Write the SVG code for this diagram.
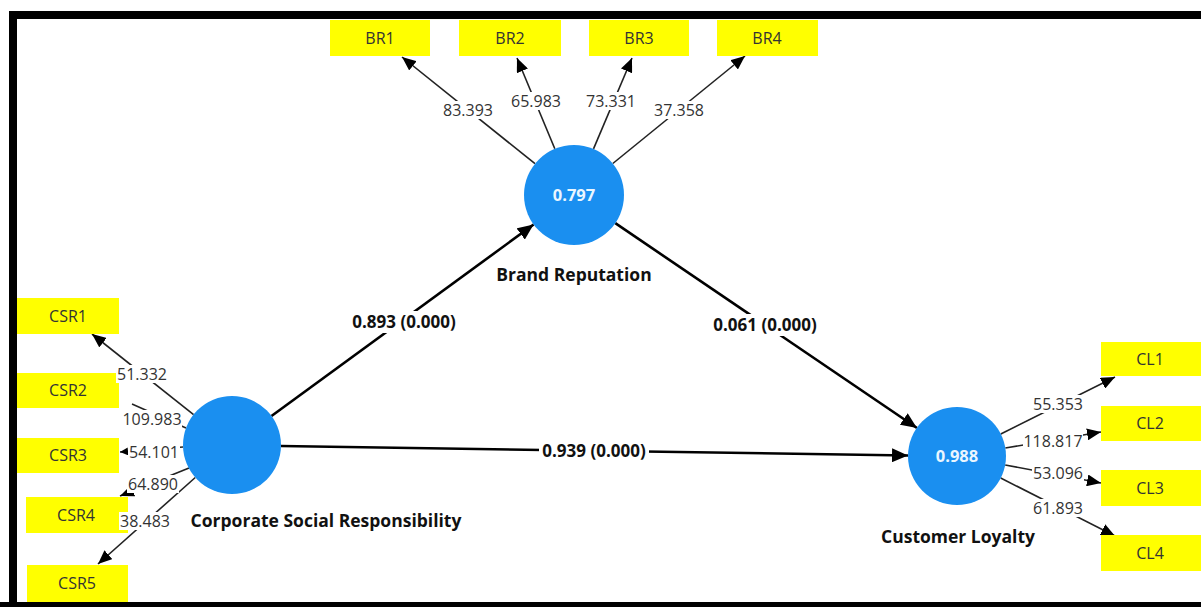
<svg xmlns="http://www.w3.org/2000/svg" width="1201" height="607" viewBox="0 0 1201 607">
<defs>
<marker id="ah" markerUnits="userSpaceOnUse" markerWidth="16" markerHeight="14" refX="16" refY="7" orient="auto"><path d="M0,0 L16,7 L0,14 z" fill="#000"/></marker>
<marker id="ai" markerUnits="userSpaceOnUse" markerWidth="14" markerHeight="12" refX="14" refY="6" orient="auto"><path d="M0,0 L14,6 L0,12 z" fill="#000"/></marker>
<marker id="as" markerUnits="userSpaceOnUse" markerWidth="8" markerHeight="8" refX="8" refY="4" orient="auto"><path d="M0,0 L8,4 L0,8 z" fill="#000"/></marker>
</defs>
<style>
.ind{stroke:#222;stroke-width:1.6;fill:none}
.str{stroke:#000;stroke-width:2.6;fill:none}
.bg{fill:#fff}
.num{font-family:"Open Sans","Noto Sans",sans-serif;font-size:16px;fill:#333;text-anchor:middle}
.pl{font-family:"Open Sans","Noto Sans",sans-serif;font-size:17px;font-weight:bold;fill:#111;text-anchor:middle}
.box{fill:#ffff00}
.bt{font-family:"Open Sans","Noto Sans",sans-serif;font-size:16px;fill:#333;text-anchor:middle}
.lv{fill:#1a8ff0}
.lvt{font-family:"Open Sans","Noto Sans",sans-serif;font-size:16.5px;font-weight:bold;fill:#eaf6ff;text-anchor:middle}
.lvn{font-family:"Open Sans","Noto Sans",sans-serif;font-size:17.5px;font-weight:bold;fill:#111;text-anchor:middle}
</style>
<rect x="0" y="0" width="1201" height="607" fill="#fff"/>
<rect x="9" y="11" width="1192" height="8" fill="#000"/>
<rect x="9" y="11" width="8" height="596" fill="#000"/>
<rect x="0" y="602" width="1201" height="5" fill="#000"/>

<g id="connectors">
<line class="str" x1="271.5" y1="416" x2="533.6" y2="224.5" marker-end="url(#ah)"/>
<line class="str" x1="615.3" y1="223.2" x2="917" y2="428" marker-end="url(#ah)"/>
<line class="str" x1="281" y1="446" x2="908" y2="455.5" marker-end="url(#ah)"/>
<line class="ind" x1="535" y1="163.7" x2="402" y2="57" marker-end="url(#ai)"/>
<line class="ind" x1="554.8" y1="148.8" x2="517" y2="58" marker-end="url(#ai)"/>
<line class="ind" x1="593.5" y1="148.9" x2="632" y2="58" marker-end="url(#ai)"/>
<line class="ind" x1="612.8" y1="163.5" x2="745" y2="56" marker-end="url(#ai)"/>
<line class="ind" x1="193.6" y1="414.6" x2="92" y2="334" marker-end="url(#ai)"/>
<line class="ind" x1="186" y1="428" x2="132" y2="404" stroke="#999"/>
<line class="ind" x1="183" y1="447" x2="120" y2="452" marker-end="url(#as)"/>
<line class="ind" x1="189" y1="468" x2="120" y2="496" marker-end="url(#ai)"/>
<line class="ind" x1="195.3" y1="477.5" x2="98" y2="564" marker-end="url(#ai)"/>
<line class="ind" x1="1000.8" y1="434" x2="1115" y2="377" marker-end="url(#ai)"/>
<line class="ind" x1="1005.3" y1="448" x2="1101" y2="432" marker-end="url(#ai)"/>
<line class="ind" x1="1005.2" y1="465" x2="1101" y2="483" marker-end="url(#ai)"/>
<line class="ind" x1="1000.7" y1="478" x2="1115" y2="536" marker-end="url(#ai)"/>
</g>

<g id="BR"><circle class="lv" cx="574" cy="195" r="50"/><text class="lvt" x="574" y="201">0.797</text><text class="lvn" x="574" y="281">Brand Reputation</text></g>
<g id="CSR"><circle class="lv" cx="232" cy="445" r="49"/><text class="lvn" x="326" y="527">Corporate Social Responsibility</text></g>
<g id="CL"><circle class="lv" cx="957" cy="456" r="49"/><text class="lvt" x="957" y="462">0.988</text><text class="lvn" x="958" y="543">Customer Loyalty</text></g>

<g id="BR1"><rect class="box" x="330" y="20" width="100" height="36"/><text class="bt" x="380" y="44">BR1</text></g>
<g id="BR2"><rect class="box" x="459" y="20" width="102" height="36"/><text class="bt" x="510" y="44">BR2</text></g>
<g id="BR3"><rect class="box" x="589" y="20" width="100" height="36"/><text class="bt" x="639" y="44">BR3</text></g>
<g id="BR4"><rect class="box" x="717" y="20" width="101" height="36"/><text class="bt" x="767" y="44">BR4</text></g>

<g id="CSR1"><rect class="box" x="17" y="298" width="102" height="36"/><text class="bt" x="68" y="322">CSR1</text></g>
<g id="CSR2"><rect class="box" x="17" y="373" width="102" height="35"/><text class="bt" x="68" y="396">CSR2</text></g>
<g id="CSR3"><rect class="box" x="17" y="438" width="102" height="35"/><text class="bt" x="68" y="461">CSR3</text></g>
<g id="CSR4"><rect class="box" x="26" y="497" width="102" height="36"/><text class="bt" x="76" y="521">CSR4</text></g>
<g id="CSR5"><rect class="box" x="27" y="565" width="101" height="37"/><text class="bt" x="77" y="589">CSR5</text></g>

<g id="CL1"><rect class="box" x="1101" y="342" width="100" height="34"/><text class="bt" x="1150" y="365">CL1</text></g>
<g id="CL2"><rect class="box" x="1101" y="406" width="100" height="35"/><text class="bt" x="1150" y="429">CL2</text></g>
<g id="CL3"><rect class="box" x="1101" y="470" width="100" height="36"/><text class="bt" x="1150" y="494">CL3</text></g>
<g id="CL4"><rect class="box" x="1101" y="535" width="100" height="36"/><text class="bt" x="1150" y="559">CL4</text></g>

<g id="connector-labels">
<rect class="bg" x="349" y="311" width="110" height="22"/>
<rect class="bg" x="710" y="314" width="110" height="22"/>
<rect class="bg" x="539" y="440" width="110" height="22"/>
<rect class="bg" x="442" y="101" width="52" height="18"/>
<rect class="bg" x="510" y="92" width="52" height="18"/>
<rect class="bg" x="585" y="92" width="52" height="18"/>
<rect class="bg" x="653" y="101" width="52" height="18"/>
<rect class="bg" x="116" y="365" width="52" height="18"/>
<rect class="bg" x="122" y="410" width="60" height="18"/>
<rect class="bg" x="128" y="443" width="52" height="18"/>
<rect class="bg" x="127" y="475" width="52" height="18"/>
<rect class="bg" x="119" y="512" width="52" height="18"/>
<rect class="bg" x="1032" y="395" width="52" height="18"/>
<rect class="bg" x="1023" y="432" width="60" height="18"/>
<rect class="bg" x="1032" y="464" width="52" height="18"/>
<rect class="bg" x="1032" y="499" width="52" height="18"/>
<text class="pl" x="404" y="328">0.893 (0.000)</text>
<text class="pl" x="765" y="331">0.061 (0.000)</text>
<text class="pl" x="594" y="457">0.939 (0.000)</text>
<text class="num" x="468" y="115.5">83.393</text>
<text class="num" x="536" y="106.5">65.983</text>
<text class="num" x="611" y="106.5">73.331</text>
<text class="num" x="679" y="115.5">37.358</text>
<text class="num" x="142" y="379.5">51.332</text>
<text class="num" x="152" y="424.5">109.983</text>
<text class="num" x="154" y="457.5">54.101</text>
<text class="num" x="153" y="489.5">64.890</text>
<text class="num" x="145" y="526.5">38.483</text>
<text class="num" x="1058" y="409.5">55.353</text>
<text class="num" x="1053" y="446.5">118.817</text>
<text class="num" x="1058" y="478.5">53.096</text>
<text class="num" x="1058" y="513.5">61.893</text>
</g>
</svg>
